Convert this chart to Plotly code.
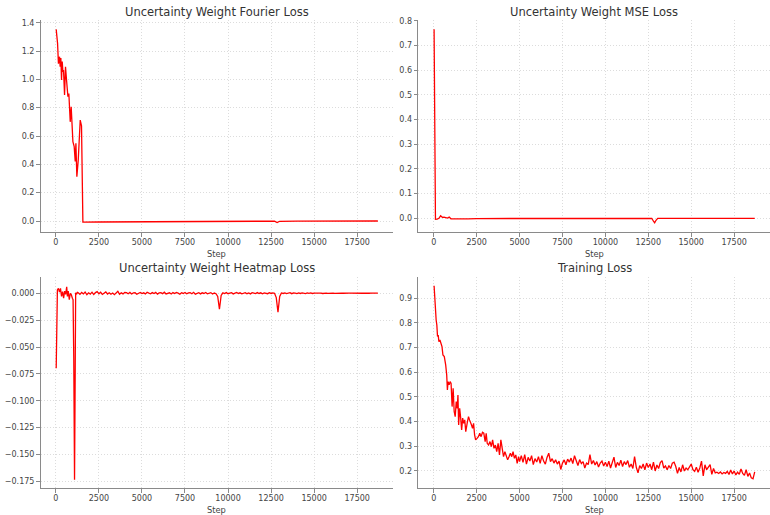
import plotly.graph_objects as go

# ---------------- data ----------------
fourier_step = [20, 100, 150, 215, 250, 290, 330, 370, 410, 445, 505, 560, 620, 700, 755, 835, 890,
                990, 1065, 1125, 1165, 1220, 1300, 1380, 1415, 1490, 1545, 1570, 2500, 4000, 6000,
                8000, 10000, 12000, 12700, 12850, 13000, 14000, 16000, 18700]
fourier_val = [1.353, 1.254, 1.11, 1.16, 1.09, 1.15, 0.995, 1.125, 1.054, 1.066, 0.889, 1.089, 0.995,
               0.878, 0.90, 0.70, 0.807, 0.56, 0.525, 0.42, 0.548, 0.313, 0.43, 0.654, 0.712, 0.672,
               -0.005, -0.008, -0.007, -0.006, -0.004, -0.003, -0.002, -0.001, -0.001, -0.011,
               -0.002, -0.001, 0.0, 0.0]

mse_step = [20, 100, 200, 300, 400, 450, 500, 600, 700, 800, 900, 1000, 1200, 1500, 2000, 2500,
            3000, 3500, 4000, 5000, 6000, 7000, 8000, 9000, 10000, 11000, 12000, 12700, 12800,
            12870, 12950, 13050, 14000, 15000, 16000, 17000, 18000, 18700]
mse_val = [0.766, -0.004, -0.003, 0.0, 0.01, 0.006, 0.004, 0.005, 0.002, 0.001, 0.005, -0.002,
           -0.002, -0.003, -0.002, -0.001, -0.001, 0.0, 0.0, 0.0, 0.0, 0.0, 0.0, 0.0, -0.001, 0.0,
           0.0, 0.0, -0.012, -0.018, -0.008, 0.0, 0.0, 0.0, 0.0, 0.0, 0.0, 0.0]

heat_step_early = [20, 90, 150, 210, 270, 330, 390, 450, 510, 570, 630, 670, 720, 780, 840, 900,
                   960, 1000, 1040, 1085, 1125, 1150, 1200, 1250]
heat_val_early = [-0.0697, 0.003, 0.0046, 0.001, 0.0046, -0.003, 0.0015, -0.0046, 0.002, -0.001,
                  0.006, -0.003, 0.002, -0.006, 0.0, -0.0015, -0.0046, -0.006, -0.06, -0.1735,
                  -0.07, 0.0005, -0.001, 0.0008]
heat_step_late = list(range(1300, 18701, 100))
heat_val_late = [
    0.0005, -0.0010, 0.0008, -0.0006, 0.0012, -0.0014, 0.0004, -0.0008, 0.0010, -0.0012,
    0.0006, 0.0015, -0.0005, 0.0009, -0.0011, 0.0003, 0.0013, -0.0007, 0.0005, -0.0009,
    0.0002, -0.0013, 0.0007, 0.0018, -0.0010, 0.0004, -0.0006, 0.0008,
    0.0006, -0.0004, 0.0008, -0.0007, 0.0003, 0.0005, -0.0009, 0.0002, 0.0007, -0.0003,
    0.0004, -0.0006, 0.0009, 0.0001, -0.0005, 0.0006, -0.0002, 0.0008, -0.0008, 0.0003,
    0.0005, -0.0004, 0.0010, -0.0006, 0.0002, 0.0004, -0.0007, 0.0006, -0.0003, 0.0008,
    0.0001, -0.0009, 0.0005, -0.0002, 0.0007, -0.0005, 0.0003, 0.0006, -0.0004, 0.0009,
    -0.0008, 0.0002, 0.0005, -0.0006, 0.0004, -0.0002, 0.0007, -0.0005, 0.0003, 0.0006,
    -0.0007, 0.0002, -0.0004,
    -0.0030, -0.0149, -0.0020,
    0.0004, -0.0003, 0.0006, -0.0005, 0.0002, 0.0005, -0.0006, 0.0003, 0.0007, -0.0002,
    0.0004, -0.0005, 0.0001, 0.0006, -0.0004, 0.0003, -0.0006, 0.0005, 0.0002, -0.0003,
    0.0006, -0.0002, 0.0004, -0.0005, 0.0003, 0.0001, -0.0004, 0.0005, -0.0002, 0.0003, -0.0001,
    -0.0040, -0.0177, -0.0030,
    0.0003, -0.0002, 0.0004, -0.0003, 0.0002, 0.0005, -0.0004, 0.0003, 0.0001, -0.0003,
    0.0004, -0.0002, 0.0003, 0.0002, -0.0004, 0.0003, -0.0001, 0.0004, -0.0002, 0.0002,
    0.0003, -0.0003, 0.0001, 0.0002, -0.0002, 0.0003, 0.0001, -0.0001, 0.0002, 0.0000,
    0.0002, -0.0001, 0.0001, 0.0002, -0.0001, 0.0001, 0.0000, 0.0002, -0.0001, 0.0001,
    0.0001, 0.0000, 0.0002, -0.0001, 0.0001, 0.0000, 0.0001, 0.0000, 0.0001, -0.0001,
    0.0001, 0.0000, 0.0001, 0.0000, 0.0001, 0.0000, 0.0001]

train_step_early = [20, 60, 100, 140, 180, 220, 260, 300, 360, 420, 480, 535, 615, 695, 755, 795,
                    835, 895, 955, 1010, 1070, 1130, 1190, 1250, 1310, 1370, 1410, 1450, 1510, 1570,
                    1625, 1685, 1745, 1805, 1865, 1945, 2025, 2085, 2140, 2200, 2260, 2320, 2380,
                    2440, 2520, 2600, 2680, 2760, 2840, 2915, 2995, 3055, 3115, 3195, 3275, 3355,
                    3430, 3510, 3590, 3670, 3750, 3830, 3910, 3985, 4065, 4145, 4225, 4305, 4385,
                    4465, 4545, 4620, 4700, 4780, 4860, 4940, 5000]
train_val_early = [0.951, 0.886, 0.812, 0.812, 0.792, 0.745, 0.751, 0.724, 0.731, 0.718, 0.704,
                   0.670, 0.664, 0.630, 0.589, 0.528, 0.562, 0.549, 0.562, 0.555, 0.461, 0.535,
                   0.441, 0.420, 0.481, 0.454, 0.508, 0.386, 0.454, 0.414, 0.366, 0.414, 0.393,
                   0.407, 0.359, 0.393, 0.420, 0.407, 0.400, 0.386, 0.373, 0.393, 0.346, 0.326,
                   0.332, 0.339, 0.353, 0.339, 0.357, 0.353, 0.319, 0.353, 0.312, 0.305, 0.319,
                   0.299, 0.326, 0.292, 0.305, 0.278, 0.312, 0.265, 0.326, 0.292, 0.258, 0.278,
                   0.265, 0.245, 0.258, 0.272, 0.258, 0.278, 0.251, 0.265, 0.231, 0.258, 0.238]
train_step_late = list(range(5100, 18701, 100))
train_val_late = [
    0.262, 0.235, 0.266, 0.228, 0.255, 0.240, 0.262, 0.226, 0.250, 0.236,
    0.258, 0.231, 0.262, 0.240, 0.228, 0.255, 0.272, 0.238, 0.250, 0.232,
    0.245, 0.228, 0.240, 0.206, 0.232,
    0.245, 0.225, 0.248, 0.236, 0.252, 0.230, 0.262, 0.240, 0.222, 0.246,
    0.230, 0.238, 0.212, 0.232, 0.226, 0.266, 0.228, 0.242, 0.224, 0.238,
    0.216, 0.232, 0.240, 0.220, 0.235,
    0.218, 0.240, 0.212, 0.230, 0.256, 0.214, 0.235, 0.222, 0.244, 0.218,
    0.238, 0.226, 0.242, 0.215, 0.228, 0.210, 0.258, 0.215, 0.192, 0.222,
    0.210, 0.228, 0.205, 0.232, 0.214,
    0.228, 0.205, 0.236, 0.200, 0.224, 0.210, 0.234, 0.242, 0.212, 0.220,
    0.205, 0.222, 0.210, 0.232, 0.236, 0.218, 0.190, 0.214, 0.196, 0.225,
    0.200, 0.212, 0.205, 0.215, 0.228,
    0.205, 0.198, 0.215, 0.195, 0.212, 0.240, 0.180, 0.225, 0.205, 0.218,
    0.226, 0.186, 0.210, 0.192, 0.195, 0.190, 0.196, 0.188, 0.194, 0.190,
    0.198, 0.186, 0.204, 0.188, 0.200, 0.184, 0.195, 0.186, 0.208, 0.190,
    0.182, 0.205, 0.178, 0.192, 0.172, 0.168, 0.196]

titles = ["Uncertainty Weight Fourier Loss", "Uncertainty Weight MSE Loss",
          "Uncertainty Weight Heatmap Loss", "Training Loss"]
x_label = "Step"

# ---------------- figure ----------------
W, H = 770, 515
FONT = "DejaVu Sans"
LINE = "#8a8a8a"
GRID = "#dcdcdc"
TXT = "#444444"

series = [
    (fourier_step, fourier_val),
    (mse_step, mse_val),
    (heat_step_early + heat_step_late, heat_val_early + heat_val_late),
    (train_step_early + train_step_late, train_val_early + train_val_late),
]

# axes boxes in pixels: (left, right, top, bottom)
boxes = [(40.7, 393, 20, 232.3), (418.3, 770, 20, 232.3),
         (40.7, 393, 276.7, 488.3), (418.3, 770, 276.7, 488.3)]
yranges = [[-0.0798, 1.419], [-0.0568, 0.804], [-0.1814, 0.0154], [0.1297, 0.9876]]
xranges = [[-880, 19580], [-900, 19590], [-880, 19580], [-900, 19590]]
ytick = [dict(dtick=0.2, tick0=0, tickformat=".1f"),
         dict(dtick=0.1, tick0=0, tickformat=".1f"),
         dict(dtick=0.025, tick0=0, tickformat=".3f"),
         dict(dtick=0.1, tick0=0, tickformat=".1f")]

fig = go.Figure()
for i, (xs, ys) in enumerate(series):
    n = "" if i == 0 else str(i + 1)
    fig.add_trace(go.Scatter(x=xs, y=ys, mode="lines", line=dict(color="#ff0000", width=1.3),
                             xaxis="x" + n, yaxis="y" + n, showlegend=False, hoverinfo="skip"))

common = dict(showline=True, linecolor=LINE, linewidth=1.3, ticks="outside", ticklen=3.5,
              tickwidth=1, tickcolor=LINE, showgrid=True, gridcolor=GRID, griddash="1px,2px",
              gridwidth=0.8, zeroline=False, mirror=False, automargin=False,
              tickfont=dict(family=FONT, size=8, color=TXT))

layout = dict(width=W, height=H, margin=dict(l=0, r=0, t=0, b=0, pad=0),
              paper_bgcolor="white", plot_bgcolor="white", showlegend=False)
annotations = []
for i, (l, r, t, b) in enumerate(boxes):
    n = "" if i == 0 else str(i + 1)
    xd = [l / W, min(r / W, 1.0)]
    yd = [1 - b / H, 1 - t / H]
    layout["xaxis" + n] = dict(common, domain=xd, range=xranges[i], anchor="y" + n,
                               dtick=2500, tick0=0, tickformat="d", ticklabelstandoff=-2)
    layout["yaxis" + n] = dict(common, domain=yd, range=yranges[i], anchor="x" + n,
                               ticklabelstandoff=0, **ytick[i])
    annotations.append(dict(text=titles[i], x=(l + r) / 2 / W, xref="paper", xanchor="center",
                            y=1 - (t - 8.5) / H, yref="paper", yanchor="middle", showarrow=False,
                            font=dict(family=FONT, size=11.5, color="#333333")))
    annotations.append(dict(text=x_label, x=(l + r) / 2 / W, xref="paper", xanchor="center",
                            y=1 - (b + 21.5) / H, yref="paper", yanchor="middle", showarrow=False,
                            font=dict(family=FONT, size=8.3, color=TXT)))
layout["annotations"] = annotations
fig.update_layout(**layout)

fig.write_html("out.html", config={"displayModeBar": False},
               post_script="document.body.style.margin='0px';")
